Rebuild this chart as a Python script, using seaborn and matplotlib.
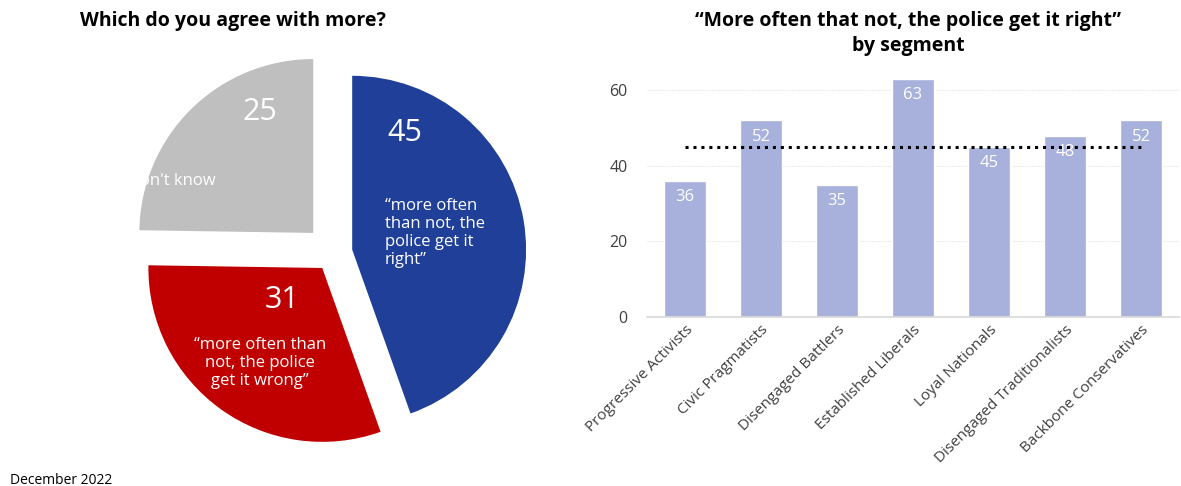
import matplotlib
matplotlib.use("Agg")
import matplotlib.pyplot as plt
import seaborn as sns
import pandas as pd

# --- data ---
pie_labels = ["“more often\nthan not, the\npolice get it\nright”",
              "“more often than\nnot, the police\nget it wrong”",
              "Don't know"]
pie_values = [45, 31, 25]

segments = ["Progressive Activists", "Civic Pragmatists", "Disengaged Battlers",
            "Established Liberals", "Loyal Nationals", "Disengaged Traditionalists",
            "Backbone Conservatives"]
segment_values = [36, 52, 35, 63, 45, 48, 52]
overall_value = 45

pie_colors = ["#1F3F99", "#C00000", "#BFBFBF"]
bar_color = "#A7B1DC"

sns.set_theme(style="white")
plt.rcParams["font.family"] = ["Open Sans", "DejaVu Sans"]

W, H = 1181, 486
fig = plt.figure(figsize=(W / 100, H / 100), dpi=100)

# --- pie ---
axp = fig.add_axes([100 / W, 0, 466 / W, 466 / H])
wedges, _ = axp.pie(pie_values, colors=pie_colors, startangle=90, counterclock=False,
                    explode=[0.112, 0.106, 0.162], radius=1.0,
                    wedgeprops=dict(linewidth=0))
axp.set_xlim(-1.34, 1.34)
axp.set_ylim(-1.34, 1.34)
axp.set_aspect("equal")
axp.axis("off")

def px(x, y):
    # pixel position -> pie data coordinates
    return (x - 333) / 173.9, (253 - y) / 173.9

num_kw = dict(color="white", fontsize=22, va="center")
txt_kw = dict(color="white", fontsize=12, linespacing=1.15)
axp.text(*px(405, 133), str(pie_values[0]), ha="center", **num_kw)
axp.text(*px(385, 233), pie_labels[0], ha="left", va="center", **txt_kw)
axp.text(*px(282, 300), str(pie_values[1]), ha="center", **num_kw)
axp.text(*px(260, 363), pie_labels[1], ha="center", va="center", **txt_kw)
axp.text(*px(260, 112), str(pie_values[2]), ha="center", **num_kw)
axp.text(*px(172, 181), pie_labels[2], ha="center", va="center", **txt_kw)

fig.text(233 / W, 1 - 21 / H, "Which do you agree with more?", ha="center", va="center",
         fontsize=14, fontweight="bold", color="black")

# --- bars ---
axb = fig.add_axes([647 / W, 169 / H, 532 / W, 249.5 / H])
df = pd.DataFrame({"segment": segments, "value": segment_values})
sns.barplot(data=df, x="segment", y="value", color=bar_color, width=0.56,
            saturation=1, ax=axb)
axb.set_xlim(-0.5, len(segments) - 0.5)
axb.set_ylim(0, 66)
axb.set_yticks([0, 20, 40, 60])
axb.yaxis.grid(True, color="#E6E6E6", linestyle=(0, (1, 1)), linewidth=0.8)
axb.set_axisbelow(True)
for s in ["top", "right", "left"]:
    axb.spines[s].set_visible(False)
axb.spines["bottom"].set_color("#D9D9D9")
axb.spines["bottom"].set_linewidth(1.2)
axb.set_xlabel("")
axb.set_ylabel("")
axb.tick_params(axis="y", labelsize=11.5, labelcolor="#404040", length=0, pad=14)
axb.tick_params(axis="x", labelsize=11, labelcolor="#404040", length=0, pad=4)
plt.setp(axb.get_xticklabels(), rotation=45, ha="right", rotation_mode="anchor")

for i, v in enumerate(segment_values):
    axb.text(i, v - 4.3, str(v), ha="center", va="center", color="white", fontsize=12)

axb.plot([0, len(segments) - 1], [overall_value, overall_value], color="black",
         linestyle=(0, (1, 1.6)), linewidth=2.2, zorder=5)

fig.text(908 / W, 1 - 21 / H, "“More often that not, the police get it right”", ha="center",
         va="center", fontsize=14, fontweight="bold", color="black")
fig.text(908 / W, 1 - 46 / H, "by segment", ha="center", va="center",
         fontsize=14, fontweight="bold", color="black")

fig.text(10 / W, 1 - 480 / H, "December 2022", ha="left", va="center", fontsize=10,
         color="black")

fig.savefig("out.png", dpi=100)
